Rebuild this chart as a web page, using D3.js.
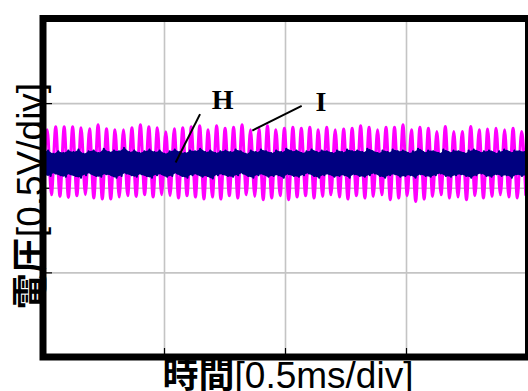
<!DOCTYPE html>
<html>
<head>
<meta charset="utf-8">
<script src="https://cdn.jsdelivr.net/npm/d3@7"></script>
<style>
body { margin: 0; background: #fff; }
</style>
</head>
<body>
<div id="chart"></div>
<script>
// time axis 0..2 ms (4 div x 0.5ms), voltage -1..1 V (4 div x 0.5V)
var xTicks = [0.5, 1.0, 1.5];
var yTicks = [-0.5, 0, 0.5];

// waveform I (magenta): peak and trough of each cycle, V
var iPeaks = [0.342,0.360,0.360,0.360,0.354,0.348,0.372,0.348,0.342,0.342,0.354,0.372,0.360,0.354,0.331,0.348,0.354,0.360,0.366,0.342,
  0.366,0.352,0.358,0.372,0.342,0.347,0.366,0.342,0.352,0.358,0.352,0.358,0.342,0.358,0.342,0.347,0.352,0.366,0.358,
  0.342,0.358,0.358,0.372,0.342,0.358,0.352,0.332,0.362,0.332,0.332,0.362,0.342,0.347,0.352,0.342,0.352,0.332];
var iTroughs = [-0.028,-0.041,-0.051,-0.057,-0.047,-0.041,-0.061,-0.067,-0.067,-0.055,-0.047,-0.051,-0.041,-0.055,-0.041,-0.047,-0.061,-0.047,-0.055,-0.067,
  -0.055,-0.067,-0.047,-0.061,-0.041,-0.051,-0.071,-0.061,-0.047,-0.071,-0.055,-0.047,-0.061,-0.051,-0.041,-0.055,-0.067,-0.047,-0.061,
  -0.051,-0.041,-0.071,-0.061,-0.047,-0.081,-0.067,-0.051,-0.041,-0.061,-0.055,-0.071,-0.047,-0.061,-0.051,-0.041,-0.055,-0.061,-0.047];
var iHalfPeriod = 0.0175; // ms

// waveform H (navy): upper and lower edge of the noisy band, V
var hUpper = [0.21,0.22,0.20,0.215,0.205,0.22,0.21,0.225,0.20,0.215,0.22,0.205,0.23,0.21,0.22,0.215,0.235,0.21,0.22,0.205,
  0.215,0.225,0.21,0.22,0.20,0.215,0.225,0.21,0.205,0.22,0.215,0.23,0.21,0.22,0.205,0.215,0.22,0.21,0.225,0.215,
  0.20,0.22,0.21,0.225,0.215,0.205,0.22,0.21,0.23,0.215,0.22,0.205,0.215,0.225,0.21,0.22,0.215,0.205,0.22,0.21,
  0.225,0.215,0.22,0.21,0.23,0.215,0.205,0.22,0.21,0.225,0.215,0.22,0.205,0.215,0.23,0.21,0.22,0.215,0.205,0.225,
  0.21,0.22,0.215,0.205,0.22,0.225,0.21,0.215,0.22,0.205,0.215,0.225,0.21,0.22,0.215,0.21];
var hLower = [0.08,0.07,0.085,0.075,0.065,0.08,0.07,0.06,0.075,0.085,0.07,0.065,0.08,0.075,0.06,0.07,0.085,0.075,0.065,0.08,
  0.07,0.06,0.075,0.08,0.065,0.07,0.085,0.07,0.06,0.075,0.08,0.065,0.07,0.055,0.075,0.08,0.07,0.065,0.075,0.085,
  0.07,0.06,0.075,0.08,0.065,0.07,0.075,0.06,0.08,0.07,0.065,0.075,0.085,0.07,0.06,0.075,0.08,0.065,0.07,0.075,
  0.06,0.08,0.07,0.065,0.075,0.085,0.07,0.06,0.075,0.08,0.065,0.07,0.075,0.06,0.08,0.07,0.065,0.075,0.085,0.07,
  0.065,0.075,0.08,0.07,0.06,0.075,0.085,0.07,0.065,0.08,0.07,0.075,0.06,0.08,0.07,0.075];

// labels with leader lines: [text, textT, textV, lineT1, lineV1, lineT2, lineV2]
var callouts = [
  ["H", 0.742, 0.466, 0.649, 0.435, 0.548, 0.149],
  ["I", 1.149, 0.455, 1.069, 0.484, 0.865, 0.338]
];

var width = 528, height = 391;
var pLeft = 43, pRight = 527, pTop = 18.5, pBottom = 357;

var svg = d3.select("#chart").append("svg")
	.attr("width", width)
	.attr("height", height);

var x = d3.scaleLinear().domain([0, 2]).range([pLeft, pRight]);
var y = d3.scaleLinear().domain([-1, 1]).range([pBottom, pTop]);

svg.append("clipPath").attr("id", "plot")
	.append("rect")
	.attr("x", pLeft).attr("y", pTop)
	.attr("width", pRight - pLeft).attr("height", pBottom - pTop);

// grid
svg.append("g").attr("class", "grid")
	.attr("transform", "translate(0," + pBottom + ")")
	.call(d3.axisBottom(x).tickValues(xTicks).tickSize(-(pBottom - pTop)).tickFormat(""));
svg.append("g").attr("class", "grid")
	.attr("transform", "translate(" + pLeft + ",0)")
	.call(d3.axisLeft(y).tickValues(yTicks).tickSize(-(pRight - pLeft)).tickFormat(""));
svg.selectAll(".grid .domain").remove();
svg.selectAll(".grid line").attr("stroke", "#c4c4c4").attr("stroke-width", 1.6);

// short inward ticks
svg.append("g").attr("class", "tk")
	.attr("transform", "translate(0," + pBottom + ")")
	.call(d3.axisBottom(x).tickValues(xTicks).tickSize(-9).tickFormat(""));
svg.append("g").attr("class", "tk")
	.attr("transform", "translate(" + pLeft + ",0)")
	.call(d3.axisLeft(y).tickValues(yTicks).tickSize(-9).tickFormat(""));
svg.selectAll(".tk .domain").remove();
svg.selectAll(".tk line").attr("stroke", "#000").attr("stroke-width", 1.2);

// waveform I
var iPoints = [];
for (var k = 0; k < iTroughs.length; k++) {
	iPoints.push(iTroughs[k]);
	if (k < iPeaks.length) iPoints.push(iPeaks[k]);
}
var iLine = d3.line()
	.x(function (d, i) { return x(i * iHalfPeriod); })
	.y(function (d) { return y(d); })
	.curve(d3.curveMonotoneX);
svg.append("path")
	.datum(iPoints)
	.attr("clip-path", "url(#plot)")
	.attr("d", iLine)
	.attr("fill", "none")
	.attr("stroke", "#ff00ff")
	.attr("stroke-width", 3);

// waveform H: solid body plus noisy zigzag edge
var hStepA = 2 / (hUpper.length - 1);
var hArea = d3.area()
	.x(function (d, i) { return x(i * hStepA); })
	.y0(function (d, i) { return y(hLower[i]); })
	.y1(function (d) { return y(d); });
svg.append("path")
	.datum(hUpper)
	.attr("clip-path", "url(#plot)")
	.attr("d", hArea)
	.attr("fill", "#000080");

var hPoints = [];
for (var j = 0; j < hUpper.length; j++) {
	hPoints.push(hUpper[j]);
	hPoints.push(hLower[j]);
}
var hStep = 2 / (hPoints.length - 1);
var hLine = d3.line()
	.x(function (d, i) { return x(i * hStep); })
	.y(function (d) { return y(d); });
svg.append("path")
	.datum(hPoints)
	.attr("clip-path", "url(#plot)")
	.attr("d", hLine)
	.attr("fill", "none")
	.attr("stroke", "#000080")
	.attr("stroke-width", 2.2)
	.attr("stroke-linejoin", "round");

// callouts
var co = svg.selectAll(".callout").data(callouts).enter().append("g").attr("class", "callout");
co.append("line")
	.attr("x1", function (d) { return x(d[3]); })
	.attr("y1", function (d) { return y(d[4]); })
	.attr("x2", function (d) { return x(d[5]); })
	.attr("y2", function (d) { return y(d[6]); })
	.attr("stroke", "#000")
	.attr("stroke-width", 2);
co.append("text")
	.attr("x", function (d) { return x(d[1]); })
	.attr("y", function (d) { return y(d[2]); })
	.attr("text-anchor", "middle")
	.style("font-family", "'Liberation Serif', serif")
	.style("font-weight", "bold")
	.style("font-size", "28px")
	.text(function (d) { return d[0]; });

// frame
svg.append("rect")
	.attr("x", pLeft).attr("y", pTop)
	.attr("width", pRight - pLeft + 1.5).attr("height", pBottom - pTop)
	.attr("fill", "none")
	.attr("stroke", "#000")
	.attr("stroke-width", 7);

// axis titles
var yt = svg.append("text")
	.attr("transform", "translate(43," + 196 + ") rotate(-90)")
	.attr("text-anchor", "middle")
	.style("font-family", "'Liberation Sans', Arial, sans-serif")
	.style("font-size", "37px");
yt.append("tspan").style("font-family", "'Noto Sans CJK JP'").style("font-weight", "bold").style("font-size", "36px").text("電圧");
yt.append("tspan").text("[0.5V/div]");

var xt = svg.append("text")
	.attr("x", 288)
	.attr("y", 388)
	.attr("text-anchor", "middle")
	.style("font-family", "'Liberation Sans', Arial, sans-serif")
	.style("font-size", "37px");
xt.append("tspan").style("font-family", "'Noto Sans CJK JP'").style("font-weight", "bold").style("font-size", "36px").text("時間");
xt.append("tspan").text("[0.5ms/div]");
</script>
</body>
</html>
